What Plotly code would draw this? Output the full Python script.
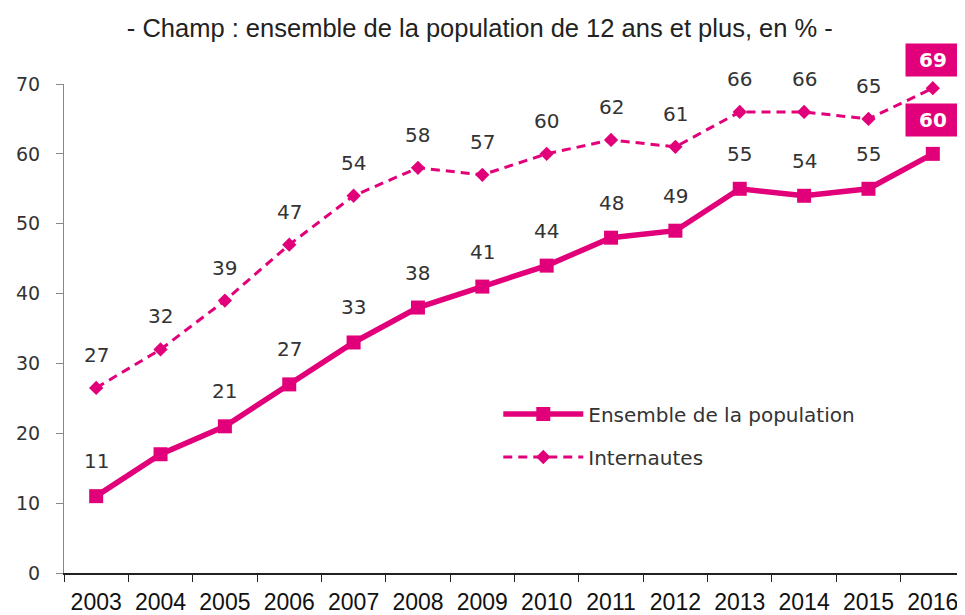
import plotly.graph_objects as go

years = ["2003", "2004", "2005", "2006", "2007", "2008", "2009", "2010",
         "2011", "2012", "2013", "2014", "2015", "2016"]
ensemble = [11, 17, 21, 27, 33, 38, 41, 44, 48, 49, 55, 54, 55, 60]
ensemble_labels = ["11", "", "21", "27", "33", "38", "41", "44", "48", "49", "55", "54", "55", "60"]
internautes = [26.5, 32, 39, 47, 54, 58, 57, 60, 62, 61, 66, 66, 65, 69.4]
internautes_labels = ["27", "32", "39", "47", "54", "58", "57", "60", "62", "61", "66", "66", "65", "69"]
y_ticks = [0, 10, 20, 30, 40, 50, 60, 70]

MAG = "#E2007A"
TXT = "#333333"
LABEL_FONT = "DejaVu Sans, Verdana, sans-serif"

# page body has an 8px margin; compensate so the chart lands like the reference
W, H = 957, 607

fig = go.Figure()
fig.add_trace(go.Scatter(
    x=years, y=ensemble, name="Ensemble de la population", mode="lines+markers",
    line=dict(color=MAG, width=5.5), marker=dict(symbol="square", size=14, color=MAG),
    legendgroup="a", cliponaxis=False))
fig.add_trace(go.Scatter(
    x=years, y=internautes, name="Internautes", mode="lines+markers",
    line=dict(color=MAG, width=3, dash="9px,6px"), marker=dict(symbol="diamond", size=11, color=MAG),
    legendgroup="b", cliponaxis=False))

annotations = []
last = len(years) - 1
for i, (v, lab) in enumerate(zip(ensemble, ensemble_labels)):
    if not lab:
        continue
    if i == last:
        annotations.append(dict(x=i, y=v, xref="x", yref="y", text="<b>" + lab + "</b>",
                                showarrow=False, yshift=34,
                                font=dict(family=LABEL_FONT, size=20, color="white"),
                                bgcolor=MAG, borderpad=4, width=46))
    else:
        annotations.append(dict(x=i, y=v, xref="x", yref="y", text=lab, showarrow=False, yshift=35,
                                font=dict(family=LABEL_FONT, size=20, color=TXT)))
for i, (v, lab) in enumerate(zip(internautes, internautes_labels)):
    if i == last:
        annotations.append(dict(x=i, y=v, xref="x", yref="y", text="<b>" + lab + "</b>",
                                showarrow=False, yshift=28,
                                font=dict(family=LABEL_FONT, size=20, color="white"),
                                bgcolor=MAG, borderpad=4, width=46))
    else:
        annotations.append(dict(x=i, y=v, xref="x", yref="y", text=lab, showarrow=False, yshift=33,
                                font=dict(family=LABEL_FONT, size=20, color=TXT)))

fig.update_layout(
    width=W, height=H,
    margin=dict(l=56, r=0, t=76, b=42),
    paper_bgcolor="white", plot_bgcolor="white",
    title=dict(text="- Champ : ensemble de la population de 12 ans et plus, en % -",
               x=0.493, xanchor="center", y=1 - 20 / H, yanchor="middle",
               font=dict(family="Liberation Sans, Arial, sans-serif", size=25.5, color="#222222")),
    showlegend=True,
    legend=dict(x=0.482, y=0.365, xanchor="left", yanchor="top", bgcolor="rgba(0,0,0,0)",
                font=dict(family=LABEL_FONT, size=20, color=TXT),
                itemwidth=80, traceorder="grouped", tracegroupgap=14),
    annotations=annotations,
    xaxis=dict(type="category", range=[-0.5, 13.5], showgrid=False, automargin=False,
               showline=True, linecolor="#222222", linewidth=2,
               ticks="outside", tickson="boundaries", ticklen=7, tickcolor="#222222",
               ticklabelstandoff=7,
               tickfont=dict(family="Liberation Sans, Arial, sans-serif", size=23, color="#111111"),
               fixedrange=True),
    yaxis=dict(range=[0, 70], tickvals=y_ticks, showgrid=False, zeroline=False, automargin=False,
               showline=True, linecolor="#888888", linewidth=1,
               ticks="outside", ticklen=7, tickcolor="#888888", ticklabelstandoff=12,
               tickfont=dict(family=LABEL_FONT, size=19, color=TXT)),
)

fig.write_html("out.html")
